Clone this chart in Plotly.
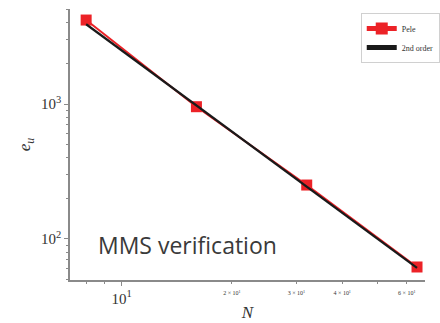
import plotly.graph_objects as go

# Data
N = [8, 16, 32, 64]
e_pele = [4190, 955, 251, 62]
N_ref = [8, 64]
e_ref = [3900, 61]

x_major_vals = [10]
x_major_text = ["10<sup>1</sup>"]
x_small_vals = [20, 30, 40, 60]
x_small_text = ["2 × 10<sup>1</sup>", "3 × 10<sup>1</sup>", "4 × 10<sup>1</sup>", "6 × 10<sup>1</sup>"]
x_minor = [8, 9, 20, 30, 40, 50, 60]
y_tickvals = [100, 1000]
y_ticktext = ["10<sup>2</sup>", "10<sup>3</sup>"]
y_minor = [50, 60, 70, 80, 90, 200, 300, 400, 500, 600, 700, 800, 900,
           2000, 3000, 4000, 5000]

serif = "Liberation Serif, DejaVu Serif, serif"
axcol = "#8a8a8a"
xrange_log = [0.859, 1.828]

fig = go.Figure()
fig.add_trace(go.Scatter(x=N, y=e_pele, name="Pele", mode="lines+markers",
                         line=dict(color="#ec2227", width=2),
                         marker=dict(symbol="square", size=11, color="#ec2227")))
fig.add_trace(go.Scatter(x=N_ref, y=e_ref, name="2nd order", mode="lines",
                         line=dict(color="#1a1a1a", width=2.2)))
fig.add_trace(go.Scatter(x=[], y=[], xaxis="x2", showlegend=False, hoverinfo="skip"))

fig.update_layout(
    width=440, height=323,
    margin=dict(l=70, r=0, t=9, b=43),
    paper_bgcolor="white", plot_bgcolor="white",
    font=dict(family=serif, color="#333"),
    showlegend=True,
    legend=dict(x=0.819, y=0.985, xanchor="left", yanchor="top",
                bgcolor="white", bordercolor="#d0d0d0", borderwidth=1,
                font=dict(family=serif, size=8, color="#333"),
                itemsizing="constant", tracegroupgap=0),
    xaxis=dict(type="log", range=xrange_log,
               showline=True, linecolor=axcol, linewidth=1.5,
               showgrid=False, zeroline=False, mirror=False,
               tickmode="array", tickvals=x_major_vals, ticktext=x_major_text,
               ticks="outside", ticklen=4, tickcolor=axcol, tickwidth=1,
               tickfont=dict(family=serif, size=15, color="#333"),
               minor=dict(tickmode="array", tickvals=x_minor, ticks="outside",
                          ticklen=2, tickcolor=axcol, showgrid=False),
               title=dict(text="<i>N</i>", font=dict(family=serif, size=17, color="#333"),
                          standoff=0)),
    xaxis2=dict(type="log", range=xrange_log, overlaying="x", anchor="y", side="bottom",
                showline=False, showgrid=False, zeroline=False,
                tickmode="array", tickvals=x_small_vals, ticktext=x_small_text,
                ticks="outside", ticklen=7, tickcolor="rgba(0,0,0,0)",
                tickfont=dict(family=serif, size=6, color="#333")),
    yaxis=dict(type="log", range=[1.696, 3.704],
               showline=True, linecolor=axcol, linewidth=1.5,
               showgrid=False, zeroline=False, mirror=False,
               tickmode="array", tickvals=y_tickvals, ticktext=y_ticktext,
               ticks="outside", ticklen=4, tickcolor=axcol, tickwidth=1,
               tickfont=dict(family=serif, size=15, color="#333"),
               minor=dict(tickmode="array", tickvals=y_minor, ticks="outside",
                          ticklen=2, tickcolor=axcol, showgrid=False),
               title=dict(text="<i>e<sub>u</sub></i>", font=dict(family=serif, size=17, color="#333"),
                          standoff=6)),
)

fig.add_annotation(text="MMS verification", xref="paper", yref="paper",
                   x=(97 - 70) / 370, y=(280 - 245) / 271, xanchor="left", yanchor="middle",
                   showarrow=False,
                   font=dict(family="Open Sans, sans-serif", size=23, color="#3a3a3a"))

fig.write_html("out.html")
